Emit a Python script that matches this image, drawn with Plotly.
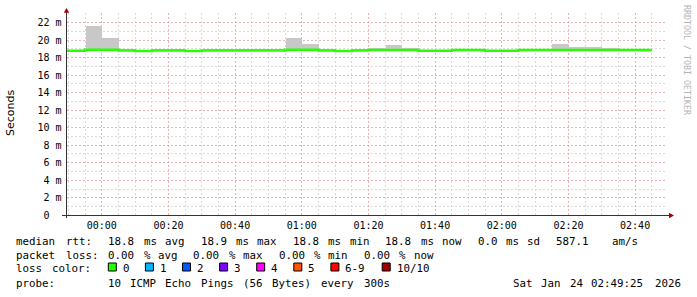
import re
import pandas as pd
import plotly.graph_objects as go

W, H = 697, 297

# ---------------- data ----------------
bin_start_min = [-15, -10, -5, 0, 5, 10, 15, 20, 25, 30, 35, 40, 45, 50, 55, 60, 65, 70,
                 75, 80, 85, 90, 95, 100, 105, 110, 115, 120, 125, 130, 135, 140, 145, 150, 155, 160]
median_ms = [18.78, 18.78, 18.90, 18.90, 18.80, 18.76, 18.80, 18.80, 18.76, 18.80, 18.80, 18.80,
             18.80, 18.80, 18.90, 18.90, 18.80, 18.76, 18.80, 18.85, 18.85, 18.85, 18.78, 18.78,
             18.85, 18.85, 18.78, 18.78, 18.85, 18.85, 18.85, 18.85, 18.85, 18.85, 18.85, 18.85]
smoke_high_ms = [18.86, 18.86, 21.55, 20.17, 18.88, 18.84, 18.88, 18.88, 18.84, 18.88, 18.88, 18.88,
                 18.88, 18.88, 20.17, 19.49, 18.88, 18.84, 18.88, 19.03, 19.37, 19.03, 18.86, 18.86,
                 18.93, 18.93, 18.86, 18.86, 18.93, 18.93, 19.49, 19.14, 19.14, 19.03, 18.93, 18.93]
smoke_low_ms = [18.70, 18.70, 18.78, 18.80, 18.72, 18.70, 18.72, 18.72, 18.70, 18.72, 18.72, 18.72,
                18.72, 18.72, 18.80, 18.80, 18.72, 18.62, 18.72, 18.76, 18.76, 18.76, 18.70, 18.70,
                18.76, 18.76, 18.70, 18.70, 18.76, 18.76, 18.76, 18.76, 18.76, 18.76, 18.76, 18.76]
step_seconds = 300
base_time = "2026-01-24 00:00:00"
range_start = "2026-01-23 23:49:25"
range_end = "2026-01-24 02:49:25"

ytick_vals = [0, 2, 4, 6, 8, 10, 12, 14, 16, 18, 20, 22]
ytick_text = ["0\u00a0\u00a0", "2 m", "4 m", "6 m", "8 m", "10 m", "12 m", "14 m", "16 m",
              "18 m", "20 m", "22 m"]

legend_rows = [
    "median rtt:  18.8 ms avg  18.9 ms max  18.8 ms min  18.8 ms now  0.0 ms sd  587.1   am/s",
    "packet loss: 0.00 % avg  0.00 % max  0.00 % min  0.00 % now",
    "loss color:",
    "probe:       10 ICMP Echo Pings (56 Bytes) every 300s".ljust(70) + "Sat Jan 24 02:49:25 2026",
]
loss_labels = ["0", "1", "2", "3", "4", "5", "6-9", "10/10"]
loss_colors = ["#26ff00", "#00b8ff", "#0059ff", "#7e00ff", "#ff00ff", "#ff5500", "#ff0000", "#a10000"]
watermark = "RRDTOOL / TOBI OETIKER"
ylabel = "Seconds"

# ---------------- helpers ----------------
def px(x):
    return x / W

def py(y):
    return 1 - y / H

t0 = pd.Timestamp(base_time)
starts = [t0 + pd.Timedelta(minutes=m) for m in bin_start_min]
step = pd.Timedelta(seconds=step_seconds)
centers = [s + step / 2 for s in starts]

MONO = "DejaVu Sans Mono"

fig = go.Figure()

# smoke
fig.add_trace(go.Bar(
    x=centers,
    y=[h - l for h, l in zip(smoke_high_ms, smoke_low_ms)],
    base=smoke_low_ms,
    width=step_seconds * 1000,
    marker=dict(color="#c8c8c8", line=dict(width=0)),
    hoverinfo="skip",
))

# median line (loss 0 colour)
fig.add_trace(go.Scatter(
    x=starts + [starts[-1] + step],
    y=median_ms + [median_ms[-1]],
    mode="lines",
    line=dict(color=loss_colors[0], width=2.5, shape="hv"),
    hoverinfo="skip",
))

X0, X1 = 66.5, 666.5
Y0, Y1 = 215.3, 13.3

MAJ = "#e8b2b2"
MIN = "#d9d9d9"
DASH = "2px,2px"

fig.update_layout(
    template="none",
    width=W, height=H,
    margin=dict(l=0, r=0, t=0, b=0, autoexpand=False),
    paper_bgcolor="white", plot_bgcolor="white",
    showlegend=False, bargap=0,
    xaxis=dict(
        domain=[px(X0), px(X1)],
        type="date",
        range=[range_start, range_end],
        tick0=base_time, dtick=20 * 60 * 1000,
        tickformat="%H:%M",
        tickfont=dict(family=MONO, size=10, color="black"),
        showgrid=True, gridcolor=MAJ, gridwidth=1, griddash=DASH,
        minor=dict(dtick=5 * 60 * 1000, showgrid=True, gridcolor=MIN,
                   griddash=DASH, gridwidth=1),
        showline=False, zeroline=False, ticks="",
        ticklabelstandoff=3, automargin=False,
    ),
    yaxis=dict(
        domain=[py(Y0), py(Y1)],
        range=[0, 23.05],
        tickvals=ytick_vals, ticktext=ytick_text,
        tickfont=dict(family=MONO, size=10, color="black"),
        showgrid=True, gridcolor=MAJ, gridwidth=1, griddash=DASH,
        minor=dict(dtick=1, showgrid=True, gridcolor=MIN,
                   griddash=DASH, gridwidth=1),
        showline=False, zeroline=False, ticks="",
        ticklabelstandoff=4, automargin=False,
    ),
)

shapes = []
AX = "#333333"
ARROW = "#a00000"
# axis lines
shapes.append(dict(type="line", xref="paper", yref="paper", x0=px(62), x1=px(670),
                   y0=py(215.5), y1=py(215.5), line=dict(color=AX, width=1)))
shapes.append(dict(type="line", xref="paper", yref="paper", x0=px(66.5), x1=px(66.5),
                   y0=py(218), y1=py(11), line=dict(color=AX, width=1)))
# arrows
shapes.append(dict(type="path", xref="paper", yref="paper",
                   path=f"M {px(63.8)} {py(12.8)} L {px(69.2)} {py(12.8)} L {px(66.5)} {py(8)} Z",
                   fillcolor=ARROW, line=dict(width=0)))
shapes.append(dict(type="path", xref="paper", yref="paper",
                   path=f"M {px(669)} {py(212.8)} L {px(669)} {py(218.2)} L {px(674)} {py(215.5)} Z",
                   fillcolor=ARROW, line=dict(width=0)))

annotations = []
CW = 7.1
LX = 16
FS = 10.8
row_center = [241.7, 255.5, 268.6, 283.3]
for r, row in enumerate(legend_rows):
    for m in re.finditer(r"\S+", row):
        annotations.append(dict(
            x=px(LX + m.start() * CW), y=py(row_center[r]), xref="paper", yref="paper",
            text=m.group(0), showarrow=False, xanchor="left", yanchor="middle",
            font=dict(family=MONO, size=FS, color="black"),
            borderpad=0, borderwidth=0,
        ))

# loss colour boxes
sq_x = 108.3
for lab, col in zip(loss_labels, loss_colors):
    shapes.append(dict(type="rect", xref="paper", yref="paper",
                       x0=px(sq_x), x1=px(sq_x + 8), y0=py(263), y1=py(271),
                       fillcolor=col, line=dict(color="black", width=1)))
    lab_x = sq_x + 14.5
    annotations.append(dict(
        x=px(lab_x), y=py(row_center[2]), xref="paper", yref="paper",
        text=lab, showarrow=False, xanchor="left", yanchor="middle",
        font=dict(family=MONO, size=FS, color="black"), borderpad=0, borderwidth=0,
    ))
    sq_x = lab_x + len(lab) * CW + 15.5

# y axis title
annotations.append(dict(x=px(11), y=py(113), xref="paper", yref="paper", text=ylabel,
                        showarrow=False, textangle=-90, xanchor="center", yanchor="middle",
                        font=dict(family="DejaVu Sans", size=11, color="black")))
# watermark
annotations.append(dict(x=px(687), y=py(60), xref="paper", yref="paper", text=watermark,
                        showarrow=False, textangle=90, xanchor="center", yanchor="middle",
                        font=dict(family=MONO, size=8.3, color="#b4b4b4")))

fig.update_layout(shapes=shapes, annotations=annotations)
fig.write_html("out.html")
